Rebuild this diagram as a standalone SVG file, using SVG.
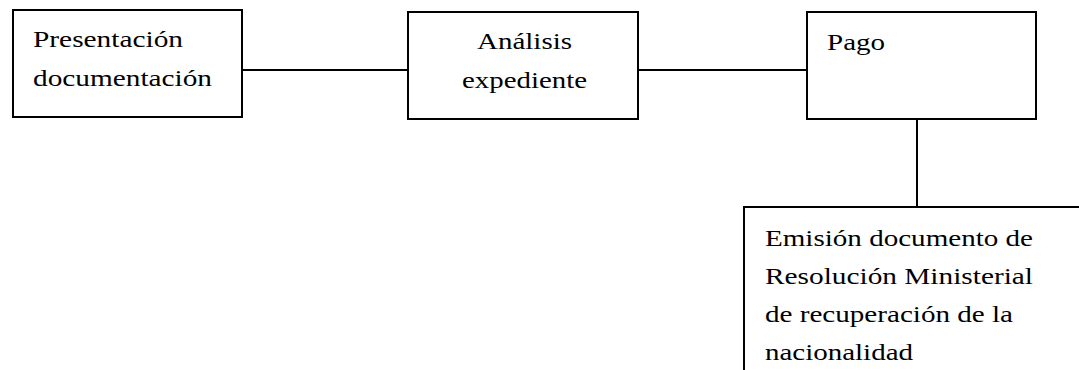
<svg xmlns="http://www.w3.org/2000/svg" width="1079" height="370" viewBox="0 0 1079 370">
  <style>
    .box { fill: #ffffff; stroke: #000000; stroke-width: 2; }
    .link { stroke: #000000; stroke-width: 2; fill: none; }
    .lbl { font-family: 'Liberation Serif', 'Times New Roman', Tinos, 'DejaVu Serif', serif; font-size: 24px; fill: #000000; }
    .mid { text-anchor: middle; }
  </style>
  <rect width="1079" height="370" fill="#ffffff"/>
  <g id="connectors">
    <line class="link" x1="242" y1="70" x2="408" y2="70"/>
    <line class="link" x1="638" y1="70" x2="807" y2="70"/>
    <line class="link" x1="917" y1="119" x2="917" y2="207"/>
  </g>
  <g id="node-presentacion">
    <rect class="box" x="13" y="10" width="229" height="107"/>
    <text class="lbl" x="33" y="47" textLength="150" lengthAdjust="spacingAndGlyphs">Presentación</text>
    <text class="lbl" x="33" y="86" textLength="179" lengthAdjust="spacingAndGlyphs">documentación</text>
  </g>
  <g id="node-analisis">
    <rect class="box" x="408" y="12" width="230" height="107"/>
    <text class="lbl" x="477" y="49" textLength="95" lengthAdjust="spacingAndGlyphs">Análisis</text>
    <text class="lbl" x="462" y="88" textLength="125" lengthAdjust="spacingAndGlyphs">expediente</text>
  </g>
  <g id="node-pago">
    <rect class="box" x="807" y="12" width="229" height="107"/>
    <text class="lbl" x="827" y="50" textLength="58" lengthAdjust="spacingAndGlyphs">Pago</text>
  </g>
  <g id="node-emision">
    <rect class="box" x="744" y="207" width="400" height="200"/>
    <text class="lbl" x="765" y="246" textLength="268" lengthAdjust="spacingAndGlyphs">Emisión documento de</text>
    <text class="lbl" x="765" y="284" textLength="268" lengthAdjust="spacingAndGlyphs">Resolución Ministerial</text>
    <text class="lbl" x="765" y="322" textLength="248" lengthAdjust="spacingAndGlyphs">de recuperación de la</text>
    <text class="lbl" x="765" y="360" textLength="148" lengthAdjust="spacingAndGlyphs">nacionalidad</text>
  </g>
</svg>
